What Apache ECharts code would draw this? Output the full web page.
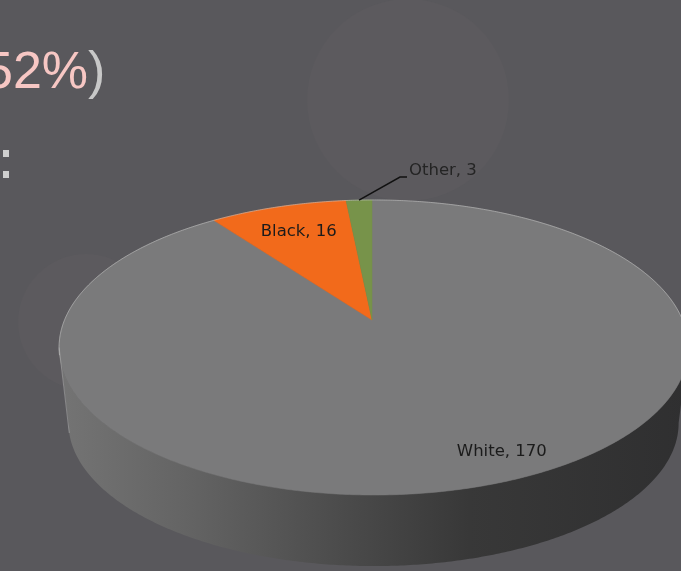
<!DOCTYPE html>
<html><head><meta charset="utf-8">
<script src="https://cdn.jsdelivr.net/npm/echarts@6/dist/echarts.min.js"></script>
<style>html,body{margin:0;padding:0;background:#59585c;overflow:hidden}#c{width:681px;height:571px}</style>
</head><body><div id="c"></div>
<script>
// ---- data ----
const categories = ['White', 'Black', 'Other'];
const values = [170, 16, 3];

// ---- styles / layout ----
const sliceColors = ['#7a7a7b', '#f26a1b', '#77934a'];
const labelColor = '#1b1b1b';
const G = { cx: 372, cy: 320, A: 309, B: 142.4, k: 0.1864, m: 0.005, Hb: 76.3, s: 0.97 };
const labelLayout = [
  { r: 0.863, dTheta: -6.4 },
  { r: 0.75, dTheta: 0 },
  { outside: true, elbow: [41, -23], tail: 7 }
];

const total = values.reduce((a, b) => a + b, 0);
const starts = [];
let acc = 0;
values.forEach(v => { starts.push(acc / total * 360); acc += v; });

function proj(theta, r, bottom) {
  const t = theta * Math.PI / 180;
  const u = r * Math.sin(t), v = -r * Math.cos(t);
  const w = 1 - G.k * v - G.m * u;
  if (!bottom) return [G.cx + G.A * u / w, G.cy + G.B * v / w];
  return [G.cx + G.s * G.A * u / w, G.cy + G.Hb + G.s * G.B * v / w];
}
const thR = 90 + Math.asin(G.k) * 180 / Math.PI;
const thL = 270 - Math.asin(G.k) * 180 / Math.PI;

const sideGrad = {
  type: 'linear', x: 59, y: 0, x2: 690, y2: 0, global: true,
  colorStops: [
    { offset: 0, color: '#747474' },
    { offset: 0.2, color: '#646464' },
    { offset: 0.45, color: '#4b4b4b' },
    { offset: 0.65, color: '#383838' },
    { offset: 1, color: '#2f2f30' }
  ]
};

function arc(a0, a1, r, bottom) {
  const pts = [];
  const n = Math.max(2, Math.ceil(Math.abs(a1 - a0) / 0.5));
  for (let i = 0; i <= n; i++) pts.push(proj(a0 + (a1 - a0) * i / n, r, bottom));
  return pts;
}

function renderItem(params, api) {
  const i = params.dataIndex;
  const val = api.value(0);
  const a0 = starts[i];
  const a1 = a0 + val / total * 360;
  const children = [];
  // side face
  const s0 = Math.max(a0, thR), s1 = Math.min(a1, thL);
  if (s1 > s0) {
    const top = arc(s0, s1, 1, false);
    const bot = arc(s0, s1, 1, true).reverse();
    children.push({ type: 'polygon', shape: { points: top.concat(bot) },
      style: { fill: sideGrad, stroke: null }, z2: 1 });
    if (s1 >= thL - 0.01) {
      children.push({ type: 'polyline', shape: { points: [proj(thL, 1, false), proj(thL - 4, 1, true)] },
        style: { stroke: 'rgba(200,200,200,0.4)', lineWidth: 1, fill: null }, z2: 3 });
    }
  }
  // top face
  const pts = [[G.cx, G.cy]].concat(arc(a0, a1, 1, false));
  children.push({ type: 'polygon', shape: { points: pts },
    style: { fill: sliceColors[i], stroke: sliceColors[i], lineWidth: 0.5 }, z2: 2 });
  // rim highlight on back part
  const rimParts = [];
  if (a0 < thR + 3) rimParts.push([a0, Math.min(a1, thR + 3)]);
  if (a1 > thL - 3) rimParts.push([Math.max(a0, thL - 3), a1]);
  rimParts.forEach(p => {
    children.push({ type: 'polyline', shape: { points: arc(p[0], p[1], 1, false) },
      style: { stroke: 'rgba(200,200,200,0.55)', lineWidth: 1, fill: null }, z2: 3 });
  });
  // label
  const L = labelLayout[i];
  const mid = (a0 + a1) / 2;
  const text = categories[i] + ', ' + val;
  if (L.outside) {
    const p = proj(mid, 1, false);
    const e = [p[0] + L.elbow[0], p[1] + L.elbow[1]];
    const t = [e[0] + L.tail, e[1]];
    children.push({ type: 'polyline', shape: { points: [p, e, t] },
      style: { stroke: '#111', lineWidth: 1.5, fill: null }, z2: 4 });
    children.push({ type: 'text', x: t[0] + 2, y: t[1] - 6,
      style: { text: text, fill: '#242424', font: '16.5px "DejaVu Sans"', align: 'left', verticalAlign: 'middle' }, z2: 5 });
  } else {
    const p = proj(mid + L.dTheta, L.r, false);
    children.push({ type: 'text', x: p[0], y: p[1],
      style: { text: text, fill: labelColor, font: '16.5px "DejaVu Sans"', align: 'center', verticalAlign: 'middle' }, z2: 5 });
  }
  return { type: 'group', children: children };
}

const chart = echarts.init(document.getElementById('c'), null, { renderer: 'canvas' });
chart.setOption({
  backgroundColor: '#59585c',
  animation: false,
  graphic: [
    { type: 'circle', shape: { cx: 408, cy: 100, r: 101 }, style: { fill: '#5c5a5e' }, z: -10 },
    { type: 'circle', shape: { cx: 86, cy: 322, r: 68 }, style: { fill: '#5c5a5e' }, z: -10 },
    { type: 'text', x: -16, y: 74, z: 10,
      style: { text: '{p|52%}{g|)}', verticalAlign: 'middle',
        rich: { p: { fill: '#f7c7c4', font: '52px "Liberation Sans"' }, g: { fill: '#c8c8c8', font: '52px "Liberation Sans"' } } } },
    { type: 'rect', shape: { x: 3, y: 150, width: 6, height: 7 }, style: { fill: '#cfcfcf' }, z: 10 },
    { type: 'rect', shape: { x: 3, y: 171, width: 6, height: 7 }, style: { fill: '#cfcfcf' }, z: 10 }
  ],
  series: [{
    type: 'custom',
    coordinateSystem: 'none',
    renderItem: renderItem,
    data: values.map((v, i) => ({ name: categories[i], value: v }))
  }]
});
</script></body></html>
